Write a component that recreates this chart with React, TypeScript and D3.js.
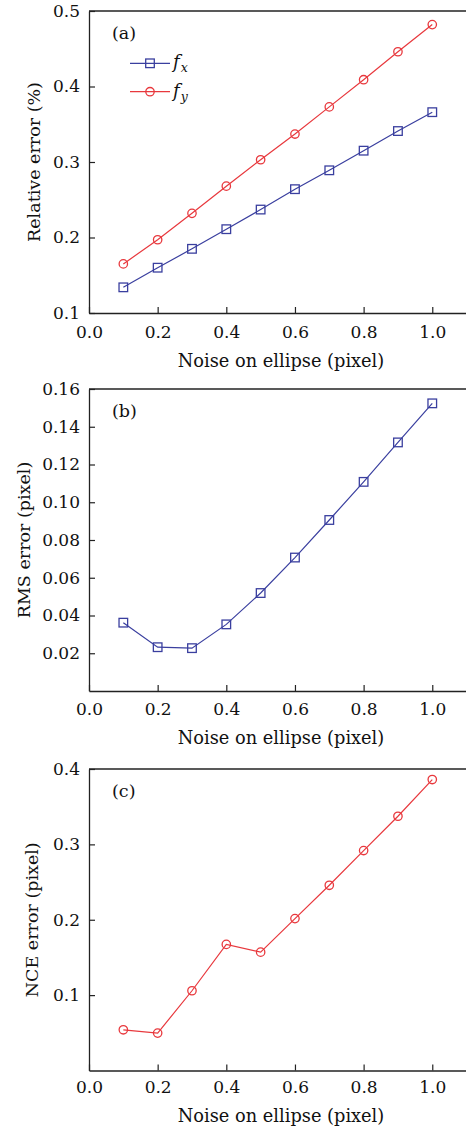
import React, { useEffect, useRef } from "react";
import * as d3 from "d3";

// noise levels (pixel) on the x axis
const noise = [0.1, 0.2, 0.3, 0.4, 0.5, 0.6, 0.7, 0.8, 0.9, 1.0];
// (a) relative error of focal lengths (%)
const fxError = [0.134, 0.16, 0.185, 0.211, 0.237, 0.264, 0.289, 0.315, 0.341, 0.366];
const fyError = [0.165, 0.197, 0.232, 0.268, 0.303, 0.337, 0.373, 0.409, 0.446, 0.482];
// (b) RMS error (pixel)
const rmsError = [0.0362, 0.0232, 0.0227, 0.0353, 0.0519, 0.0707, 0.0906, 0.1108, 0.1317, 0.1524];
// (c) NCE error (pixel)
const nceError = [0.054, 0.0496, 0.1058, 0.1673, 0.157, 0.2015, 0.2457, 0.2918, 0.3373, 0.386];

const xTicks = [0, 0.2, 0.4, 0.6, 0.8, 1.0];
const yTicksA = [0.1, 0.2, 0.3, 0.4, 0.5];
const yTicksB = [0.02, 0.04, 0.06, 0.08, 0.1, 0.12, 0.14, 0.16];
const yTicksC = [0.1, 0.2, 0.3, 0.4];

const BLUE = "#3a3f9f";
const RED = "#e8383d";
const INK = "#222";
const FONT = "'DejaVu Serif', 'Liberation Serif', serif";

const W = 466, H = 1126;

const panels = [
  {
    tag: "(a)", top: 11, bottom: 313, yDomain: [0.1, 0.5], yTicks: yTicksA, yFmt: d3.format(".1f"),
    yLabel: "Relative error (%)", yLabelX: 34, xTickY: 337.5, xLabelY: 366.5,
    series: [
      { name: "x", values: fxError, color: BLUE, marker: "square" },
      { name: "y", values: fyError, color: RED, marker: "circle" },
    ],
    legend: true,
  },
  {
    tag: "(b)", top: 389, bottom: 691, yDomain: [0, 0.16], yTicks: yTicksB, yFmt: d3.format(".2f"),
    yLabel: "RMS error (pixel)", yLabelX: 24, xTickY: 715, xLabelY: 743.5,
    series: [{ name: "rms", values: rmsError, color: BLUE, marker: "square" }],
    legend: false,
  },
  {
    tag: "(c)", top: 769, bottom: 1070.5, yDomain: [0, 0.4], yTicks: yTicksC, yFmt: d3.format(".1f"),
    yLabel: "NCE error (pixel)", yLabelX: 32, xTickY: 1093, xLabelY: 1121.5,
    series: [{ name: "nce", values: nceError, color: RED, marker: "circle" }],
    legend: false,
  },
];

function drawMarker(g, kind, x, y, color) {
  if (kind === "square") {
    g.append("rect")
      .attr("x", x - 4.3).attr("y", y - 4.3)
      .attr("width", 8.6).attr("height", 8.6)
      .attr("fill", "none").attr("stroke", color).attr("stroke-width", 1.3);
  } else {
    g.append("circle")
      .attr("cx", x).attr("cy", y).attr("r", 4.2)
      .attr("fill", "none").attr("stroke", color).attr("stroke-width", 1.3);
  }
}

export default function App() {
  const ref = useRef(null);

  useEffect(() => {
    const svg = d3.select(ref.current);
    svg.selectAll("*").remove();

    const x = d3.scaleLinear().domain([0, 1.1]).range([89, 466.6]);

    panels.forEach((p) => {
      const g = svg.append("g");
      const y = d3.scaleLinear().domain(p.yDomain).range([p.bottom, p.top]);

      // frame: top line (right edge falls outside the picture)
      g.append("line")
        .attr("x1", 89).attr("x2", W).attr("y1", p.top).attr("y2", p.top)
        .attr("stroke", INK).attr("stroke-width", 1.3);

      // x axis, ticks pointing inward
      const xa = g.append("g")
        .attr("transform", `translate(0,${p.bottom})`)
        .call(d3.axisBottom(x).tickValues(xTicks).tickFormat(d3.format(".1f"))
          .tickSizeInner(-6).tickSizeOuter(0).tickPadding(0));
      xa.selectAll("text").attr("y", p.xTickY - p.bottom).attr("dy", null);

      // y axis
      g.append("g")
        .attr("transform", "translate(89,0)")
        .call(d3.axisLeft(y).tickValues(p.yTicks).tickFormat(p.yFmt)
          .tickSizeInner(-6).tickSizeOuter(0).tickPadding(9));

      g.selectAll(".domain").attr("stroke", INK).attr("stroke-width", 1.3);
      g.selectAll(".tick line").attr("stroke", INK).attr("stroke-width", 1.2);
      g.selectAll(".tick text")
        .attr("fill", "#111")
        .style("font-family", FONT)
        .style("font-size", "17px");

      // axis titles
      g.append("text")
        .attr("x", 281).attr("y", p.xLabelY)
        .attr("text-anchor", "middle")
        .style("font-family", FONT).style("font-size", "17.8px").attr("fill", "#111")
        .text("Noise on ellipse (pixel)");

      g.append("text")
        .attr("transform", `translate(${p.yLabelX},${(p.top + p.bottom) / 2}) rotate(-90)`)
        .attr("text-anchor", "middle").attr("dy", "0.35em")
        .style("font-family", FONT).style("font-size", "17.5px").attr("fill", "#111")
        .text(p.yLabel);

      // panel tag
      g.append("text")
        .attr("x", 112).attr("y", p.top + 28)
        .style("font-family", FONT).style("font-size", "17.5px").attr("fill", "#111")
        .text(p.tag);

      // series
      p.series.forEach((s) => {
        const line = d3.line().x((d, i) => x(noise[i])).y((d) => y(d));
        g.append("path")
          .attr("d", line(s.values))
          .attr("fill", "none").attr("stroke", s.color).attr("stroke-width", 1.2);
        const mg = g.append("g");
        s.values.forEach((v, i) => drawMarker(mg, s.marker, x(noise[i]), y(v), s.color));
      });

      // legend
      if (p.legend) {
        p.series.forEach((s, i) => {
          const ly = 63.3 + i * 28.4;
          g.append("line")
            .attr("x1", 130).attr("x2", 170).attr("y1", ly).attr("y2", ly)
            .attr("stroke", s.color).attr("stroke-width", 1.2);
          drawMarker(g, s.marker, 150, ly, s.color);
          const t = g.append("text")
            .attr("x", 173).attr("y", ly + 5)
            .style("font-family", FONT).style("font-size", "18px").attr("fill", "#111");
          t.append("tspan").style("font-style", "italic").text("f");
          t.append("tspan").style("font-style", "italic").style("font-size", "12.5px")
            .attr("dx", "1").attr("dy", "4").text(s.name);
        });
      }
    });
  }, []);

  return (
    <svg
      ref={ref}
      width={W}
      height={H}
      style={{ position: "absolute", left: 0, top: 0, background: "#fff" }}
    />
  );
}
